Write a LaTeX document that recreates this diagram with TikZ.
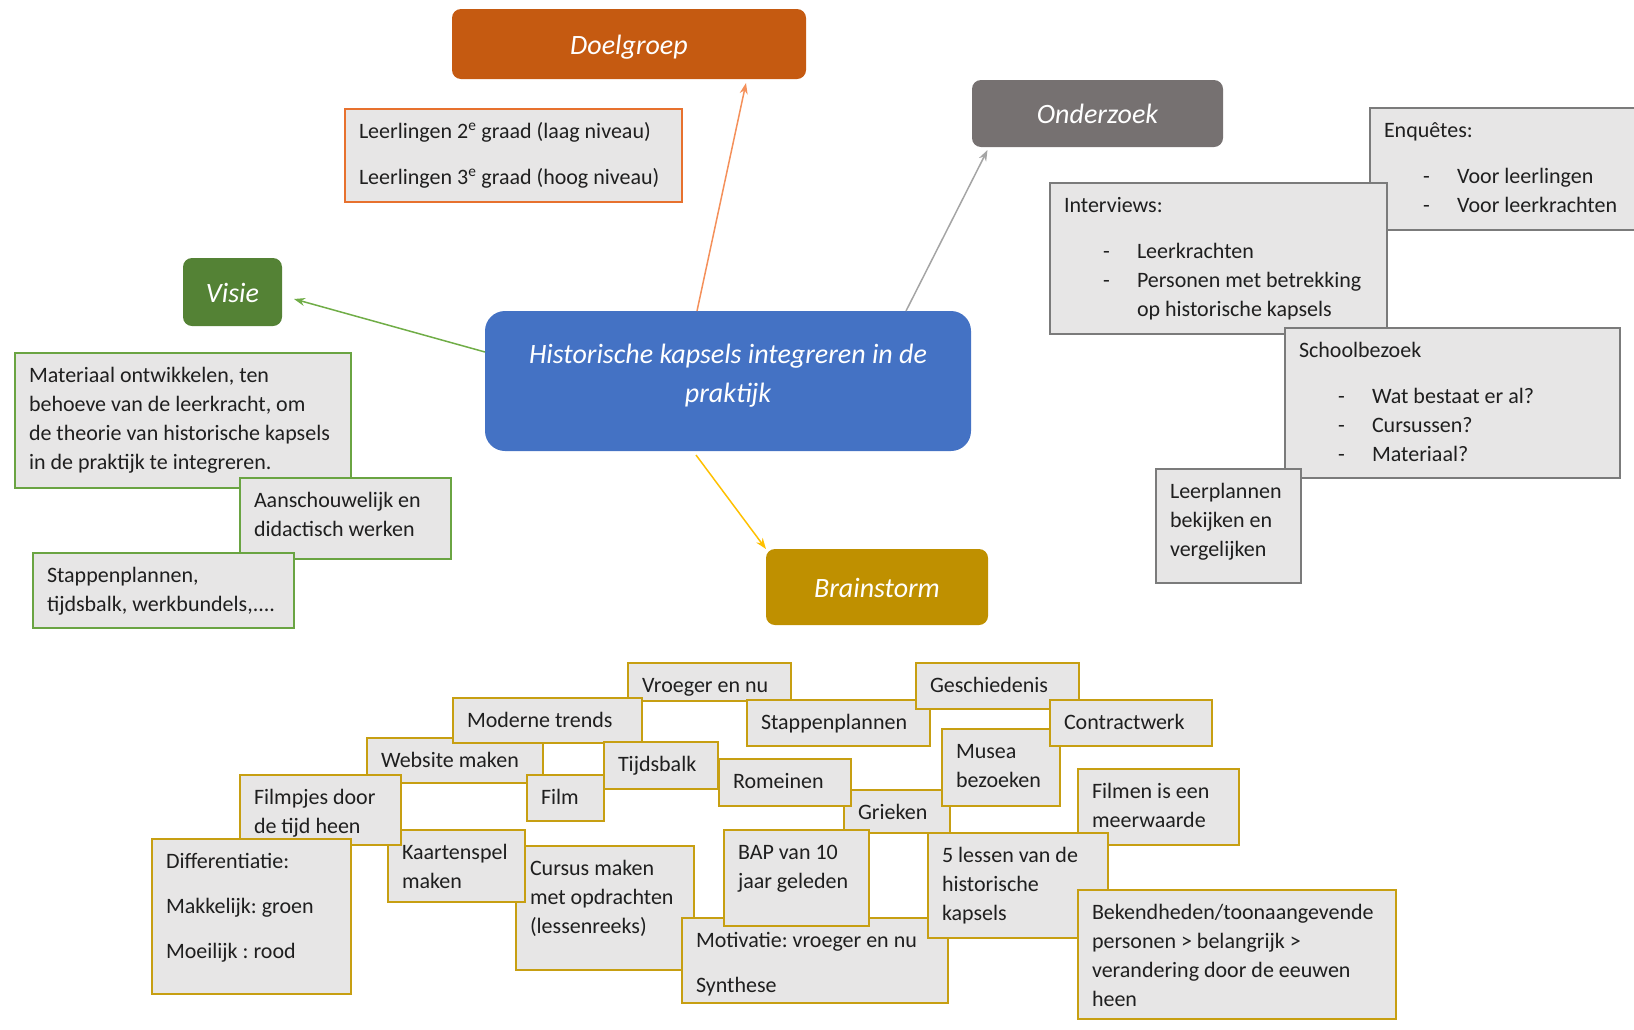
\documentclass[tikz,border=0pt]{standalone}
\usepackage{fontspec}
\setmainfont{Carlito}
\usetikzlibrary{arrows.meta}
\frenchspacing
\definecolor{cdoel}{HTML}{C55A11}
\definecolor{conder}{HTML}{767171}
\definecolor{cvisie}{HTML}{548235}
\definecolor{cbrain}{HTML}{BF9000}
\definecolor{ccent}{HTML}{4472C4}
\definecolor{boxfill}{HTML}{E7E6E6}
\definecolor{bdorange}{HTML}{E7712E}
\definecolor{bdgray}{HTML}{7B7B7B}
\definecolor{bdgreen}{HTML}{6AA442}
\definecolor{bdgold}{HTML}{C79F12}
\definecolor{arorange}{HTML}{F4905A}
\definecolor{argray}{HTML}{A5A5A5}
\definecolor{argreen}{HTML}{70AD47}
\definecolor{aryellow}{HTML}{FFC000}
\newcommand\bt[3]{\vbox to #2pt{\vskip 9pt\hbox to #1pt{\hskip14pt\begin{tabular}[t]{@{}l@{}}#3\end{tabular}\hss}\vfill}}
\newcommand\dli[1]{\hspace*{39pt}\makebox[34pt][l]{-}#1}
\newcommand\dlc[1]{\hspace*{73pt}#1}
\tikzset{
  bx/.style={draw, fill=boxfill, line width=1.8pt, inner sep=0pt, outer sep=0pt,
    anchor=north west, font=\fontsize{22}{29}\selectfont\frenchspacing, text=black!88},
  obx/.style={bx, draw=bdorange},
  gbx/.style={bx, draw=bdgray},
  grbx/.style={bx, draw=bdgreen},
  ybx/.style={bx, draw=bdgold},
  hd/.style={rounded corners=9pt, inner sep=0pt, outer sep=0pt, text=white,
    font=\fontsize{28}{39}\selectfont\itshape, anchor=north west},
  hdt/.style={hd, text height=20pt, text depth=0pt},
  con/.style={line width=1.5pt, -{Stealth[length=11pt,width=8pt]}}
}
\begin{document}
\begin{tikzpicture}[x=1pt,y=-1pt]
\useasboundingbox (0,0) rectangle (1634,1029);
\clip (0,0) rectangle (1634,1029);
% ---- Visie side
\node[grbx] (mat) at (15,353) {\bt{336}{135}{Materiaal ontwikkelen, ten\\behoeve van de leerkracht, om\\de theorie van historische kapsels\\in de praktijk te integreren.}};
\node[grbx] (aan) at (240,478) {\bt{211}{81}{Aanschouwelijk en\\didactisch werken}};
\node[grbx] (stpv) at (33,553) {\bt{261}{75}{Stappenplannen,\\tijdsbalk, werkbundels,....}};
% ---- Doelgroep
\node[obx] (lee) at (345,109) {\bt{337}{93}{Leerlingen 2\textsuperscript{e} graad (laag niveau)\\[17pt]Leerlingen 3\textsuperscript{e} graad (hoog niveau)}};
% ---- Onderzoek
\node[gbx] (enq) at (1370,108) {\bt{290}{122}{Enquêtes:\\[17pt]\dli{Voor leerlingen}\\\dli{Voor leerkrachten}}};
\node[gbx] (int) at (1050,183) {\bt{337}{151}{Interviews:\\[17pt]\dli{Leerkrachten}\\\dli{Personen met betrekking}\\\dlc{op historische kapsels}}};
\node[gbx] (sch) at (1285,328) {\bt{335}{150}{Schoolbezoek\\[17pt]\dli{Wat bestaat er al?}\\\dli{Cursussen?}\\\dli{Materiaal?}}};
\node[gbx] (lpl) at (1156,469) {\bt{145}{114}{Leerplannen\\bekijken en\\vergelijken}};
% ---- Brainstorm
\node[ybx] (vro) at (628,663) {\bt{163}{38}{Vroeger en nu}};
\node[ybx] (web) at (367,738) {\bt{176}{45}{Website maken}};
\node[ybx] (mod) at (453,698) {\bt{189}{45}{Moderne trends}};
\node[ybx] (stap) at (747,700) {\bt{183}{46}{Stappenplannen}};
\node[ybx] (ges) at (916,663) {\bt{163}{46}{Geschiedenis}};
\node[ybx] (gri) at (844,790) {\bt{106}{43}{Grieken}};
\node[ybx] (mus) at (942,729) {\bt{118}{77}{Musea\\bezoeken}};
\node[ybx] (con) at (1050,700) {\bt{162}{46}{Contractwerk}};
\node[ybx] (rom) at (719,759) {\bt{132}{47}{Romeinen}};
\node[ybx] (tij) at (604,742) {\bt{114}{47}{Tijdsbalk}};
\node[ybx] (film) at (527,775) {\bt{77}{46}{Film}};
\node[ybx] (cur) at (516,846) {\bt{178}{124}{Cursus maken\\met opdrachten\\(lessenreeks)}};
\node[ybx] (kaa) at (388,830) {\bt{137}{72}{Kaartenspel\\maken}};
\node[ybx] (fpj) at (240,775) {\bt{161}{70}{Filmpjes door\\de tijd heen}};
\node[ybx] (dif) at (152,839) {\bt{199}{155}{Differentiatie:\\[16pt]Makkelijk: groen\\[16pt]Moeilijk : rood}};
\node[ybx] (mot) at (682,918) {\bt{266}{85}{Motivatie: vroeger en nu\\[16pt]Synthese}};
\node[ybx] (bap) at (724,830) {\bt{145}{96}{BAP van 10\\jaar geleden}};
\node[ybx] (fil) at (1078,769) {\bt{161}{76}{Filmen is een\\meerwaarde}};
\node[ybx] (fiv) at (928,833) {\bt{180}{105}{5 lessen van de\\historische\\kapsels}};
\node[ybx] (bek) at (1078,890) {\bt{318}{129}{Bekendheden/toonaangevende\\personen > belangrijk >\\verandering door de eeuwen\\heen}};
% ---- headers
\node[hdt, fill=cdoel, minimum width=354pt, minimum height=70pt] (doelgroep) at (452,9) {Doelgroep};
\node[hdt, fill=conder, minimum width=251pt, minimum height=67pt] (onderzoek) at (972,80) {Onderzoek};
\node[hdt, fill=cvisie, minimum width=99pt, minimum height=68pt] (visie) at (183,258) {Visie};
\node[hdt, fill=cbrain, minimum width=222pt, minimum height=76pt] (brainstorm) at (766,549) {Brainstorm};
\node[hd, fill=ccent, rounded corners=20pt] (central) at (485,311) {\vbox to 140pt{\vskip 25pt\hbox to 486pt{\hss\begin{tabular}[t]{@{}c@{}}Historische kapsels integreren in de\\praktijk\end{tabular}\hss}\vfill}};
% ---- connectors
\draw[con, arorange] ([xshift=-31pt]central.north) -- ([xshift=117pt,yshift=-4pt]doelgroep.south);
\draw[con, argray] ([xshift=178pt]central.north) -- ([xshift=-110pt,yshift=-3pt]onderzoek.south);
\draw[con, argreen] ([yshift=29pt]central.west) -- ([xshift=12pt,yshift=-7pt]visie.east);
\draw[con, aryellow] ([xshift=-32pt,yshift=-4pt]central.south) -- (brainstorm.north west);
\end{tikzpicture}
\end{document}
